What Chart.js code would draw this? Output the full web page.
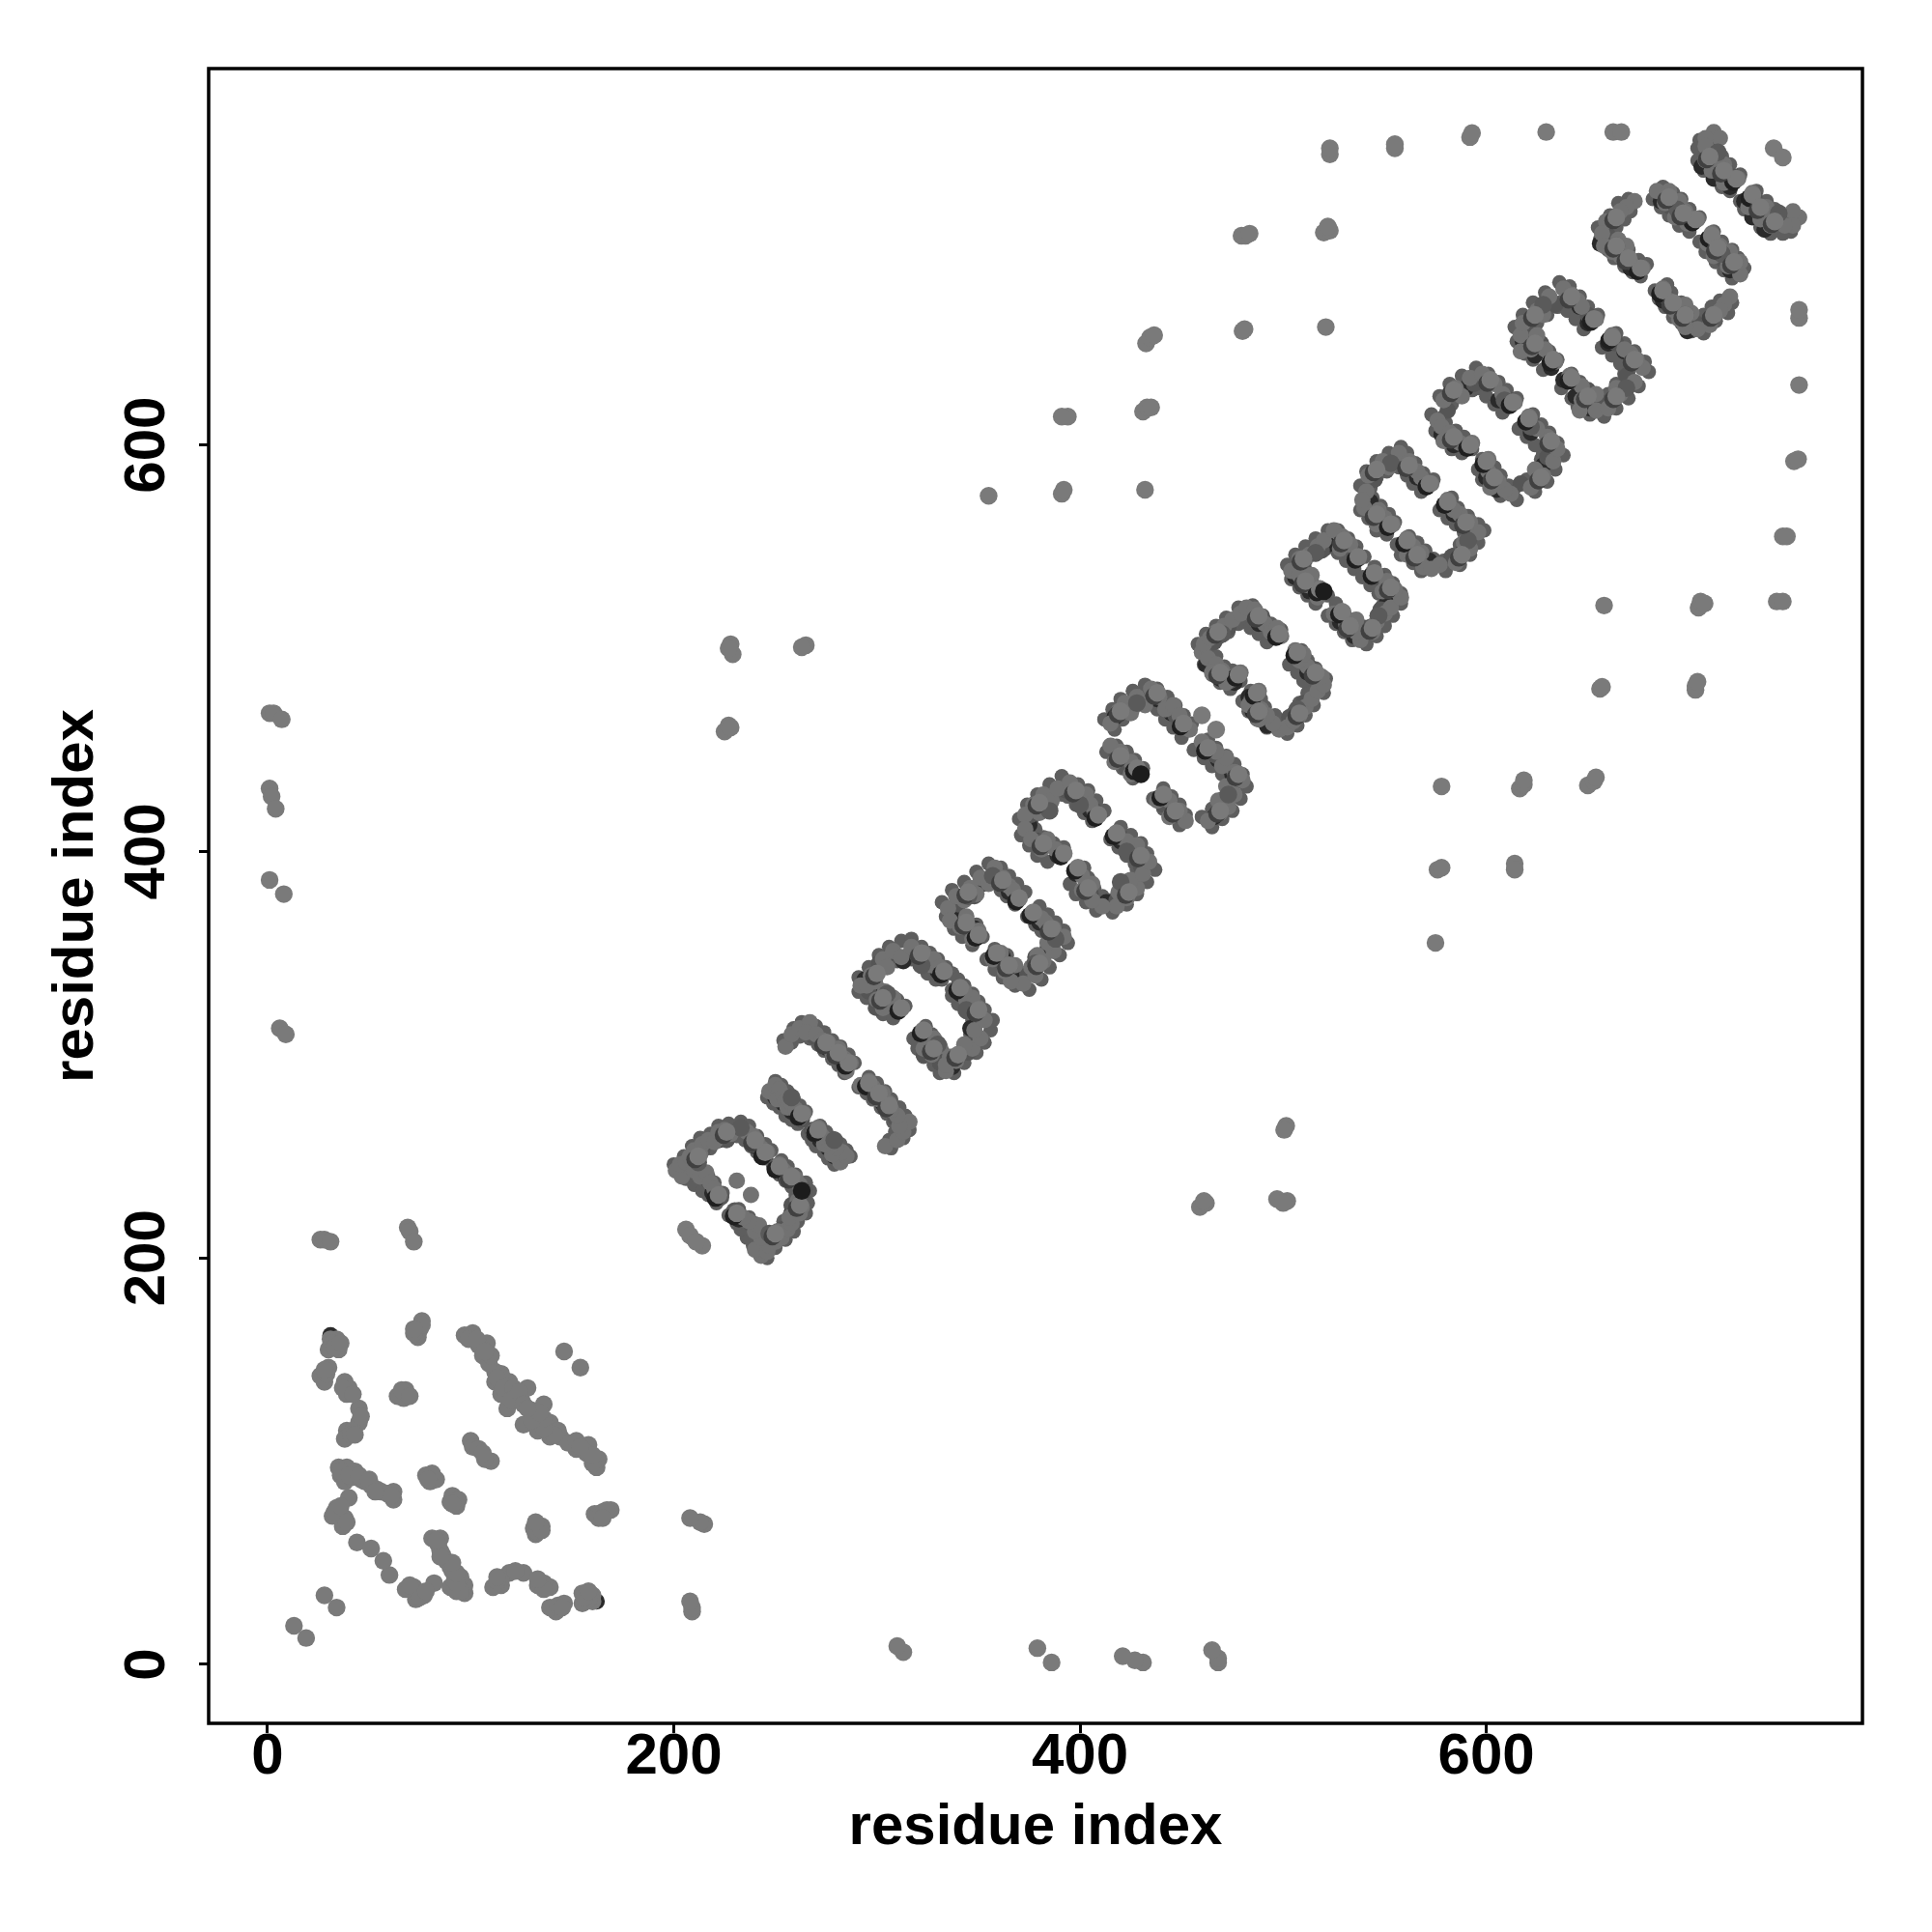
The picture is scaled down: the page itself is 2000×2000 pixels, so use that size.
<!DOCTYPE html>
<html><head><meta charset="utf-8">
<script src="https://cdn.jsdelivr.net/npm/chart.js@4/dist/chart.umd.min.js"></script>
<style>html,body{margin:0;padding:0;background:#fff}canvas{display:block}</style></head>
<body><canvas id="c" width="2000" height="2000" style="width:2000px;height:2000px"></canvas>
<script>
// Contacts as [residue i, residue j] with j > i.
// A contact map is symmetric, so each one is also plotted as [j, i].
const tickValues = [0, 200, 400, 600];
const axisLabel = "residue index";

const contactsIsolated = [
[523,743],[523,746],[555,746],[555,748],[592,751.5],[593,753.5],[629.5,754],[662.5,754],[666.5,754],[741.5,746],
[479.5,703],[481.5,703],[483.5,704],[520,704.5],[523,705.5],[522,707.5],[480,656],[481,657],[521,658],
[432.5,650],[434.5,653],[436.5,654],[431,616.5],[433,618.5],[435,618.5],[432,578],[394,614],[391,614],[391,576],[392,578],[355,575],
[265,501.5],[263,500.5],[228,502],[229,497],[227,500],[225,459],[227,462],[228,461],
[1,468],[3,468],[7,465],[1,431],[2,427],[4,421],[1,386],[8,379],[6,313],[9,310],
[206,214],[208,211],[26,209],[28,209],[31,208],[69,215],[70,213],[72,208],[460,467]];

const contactsNterm = [
[13,19],[28,34],[34,160],[31,160],[32,158],[30,155],[35,155],[30,146],[26,142],[28,139],[29,143],
[38,139],[40,136],[39,133],[45,126],[45,119],[39,115],[42,115],[38,111],[41,113],
[68,135],[64,132],[67,131],[76,169],[75,165],[74,161],[74,163],
[97,162],[101,163],[108,158],[106,152],[104,157],[112,144],[112,139],[119,139],[118,126],[128,136],[122,133],[115,133],[125,130],[109,148],[115,143],
[146,154],[100,110],[101,107],[104,106],
[35,97],[39,97],[43,95],[46,91],[51,88],[56,85],[62,85],[62,81],[36,93],[38,90],[41,92],[48,90],[54,86],[59,84],
[78,93],[80,90],[83,91],[81,94],[40,82],[34,77],[32,73],[37,68],[35,75],[38,72],[44,60],[51,57],
[66,132],[72,163],
[33,156],[36,158],[28,145],[37,136],[42,133],[46,122],[43,113],[66,135],[70,132],[76,167],[72,165],[99,160],[103,160],[110,152],[107,154],[113,141],[116,136],[121,136],[120,130],[124,134],[126,128],[36,95],[40,93],[45,93],[50,91],[53,85],[61,83],[79,91],[33,75],[36,78],[39,70]];

const contactsRepeats = [
[201,243],[204,240],[203,246],[206,247],[208,250],[210,253],[213,251],[214,256],[217,258],[220,257],[222,262],[225,263],[228,261],[236,262],[239,260],[241,257],[243,254],[246,252],[210,243],[213,240],[216,242],[218,237],[220,234],[231,238],
[247,282],[250,285],[252,283],[251,278],[254,280],[255,277],[256,274],[258,276],[260,273],[262,269],[264,271],
[255,304],[258,310],[262,313],[267,316],[265,311],[270,310],[273,307],[276,306],[278,301],[281,303],[284,298],[287,296],[285,292],
[292,334],[297,339],[299,336],[303,347],[305,343],[308,351],[312,348],[317,353],[320,349],[323,350],[327,344],[328,347],[331,343],[333,341],[295,334],[300,327],[304,331],[303,323],[308,328],[312,323],
[335,372],[336,366],[339,378],[343,376],[346,382],[349,379],[351,387],[355,384],[358,392],[362,387],[365,383],[367,381],[370,377],[341,363],[344,368],[347,357],[350,361],
[373,418],[373,411],[377,423],[380,419],[382,428],[386,425],[389,431],[395,434],[399,429],[403,428],[405,423],[409,418],[376,406],[381,401],[384,406],[388,401],[392,399],
[415,463],[419,469],[422,473],[425,468],[428,476],[432,472],[435,480],[439,476],[442,470],[446,472],[449,467],[451,461],[454,460],[415,452],[420,449],[417,444],[425,444],[425,438],
[460,498],[461,502],[464,505],[467,508],[471,511],[475,514],[479,517],[482,520],[486,519],[488,515],[491,512],[494,508],[497,510],[499,506],[463,495],[467,492],[465,488],[470,489],[472,483],[476,486],[479,488],
[504,538],[508,544],[513,546],[517,550],[520,553],[525,558],[529,555],[533,551],[537,544],[528,549],[508,536],[512,531],[514,536],[517,525],
[541,577],[542,585],[549,592],[552,589],[557,596],[562,592],[566,587],[568,584],[573,581],[540,569],[539,573],[547,568],[546,561],[550,564],[554,561],
[576,612],[579,622],[585,628],[588,624],[592,633],[598,635],[601,631],[604,630],[608,625],[614,621],[578,609],[582,606],[587,601],[593,601],[579,602],
[617,654],[618,660],[625,666],[628,664],[631,673],[638,677],[642,674],[645,671],[647,668],[654,662],[625,654],[622,647],[629,647],[634,641],[617,646],
[673,720],[669,717],[666,715],[659,710],[657,704],[665,701],[669,698],[658,698],[671,690],[677,687],[662,695],[666,693],
[684,725],[690,725],[695,720],[698,715],[704,711],[688,719],[693,712],[699,709],
[712,754],[715,751],[708,751],[708,747],[708,740],[712,742],[717,738],[724,731],[711,735],[717,729]];

// Dots along the outer and inner edges of the repeat bands.
const contactsEdges = [
[200,246],[205,250],[209,255],[213,259],[218,261],[222,265],[227,266],[205,243],[209,248],[213,252],[218,254],[223,258],
[233,267],[237,265],[241,260],[245,256],[248,253],[231,260],[235,258],[238,255],[241,252],[245,249],
[213,244],[217,240],[220,237],[224,232],[206,239],[210,236],[214,233],[217,231],[221,227],
[250,287],[253,285],[256,282],[259,278],[262,275],[265,272],[246,279],[249,276],[252,274],[255,270],[258,268],[261,266],
[270,314],[274,311],[278,307],[282,304],[286,300],[289,296],[267,308],[271,305],[274,302],[278,298],[281,295],[284,291],[254,307],[259,313],[263,316],[258,306],[262,309],
[291,338],[296,343],[301,349],[306,353],[312,356],[317,357],[296,335],[300,340],[305,344],[310,346],[315,349],[322,353],[326,350],[330,347],[334,343],[337,340],[317,347],[321,344],[325,340],[329,337],[332,337],[291,331],[295,328],[299,323],[303,320],[308,318],[298,335],[302,332],[306,330],[310,327],[314,324],
[332,375],[337,381],[343,385],[349,390],[355,394],[338,373],[343,378],[349,381],[354,385],[361,392],[365,388],[369,384],[373,380],[357,385],[361,381],[364,378],[368,374],[334,368],[338,362],[342,358],[347,354],[340,370],[344,365],[349,364],[352,358],
[370,416],[374,423],[379,428],[385,433],[391,437],[376,415],[381,421],[386,424],[391,428],[399,433],[404,430],[408,425],[412,420],[394,427],[398,423],[402,419],[406,415],[371,408],[375,403],[379,398],[384,395],[378,411],[382,407],[387,404],[392,402],
[412,465],[416,470],[420,475],[426,479],[432,482],[417,460],[421,465],[426,470],[431,473],[438,480],[443,476],[447,472],[451,467],[455,463],[434,473],[438,470],[442,465],[446,461],[450,456],[413,449],[417,446],[421,441],[426,436],[418,452],[423,449],[427,445],[431,441],
[458,502],[462,507],[467,511],[472,515],[478,520],[463,500],[468,505],[473,508],[478,512],[485,521],[490,516],[494,512],[499,509],[480,513],[484,510],[488,507],[492,503],[461,492],[465,487],[469,483],[474,480],[467,496],[471,491],[475,489],[479,484],
[502,541],[506,546],[511,550],[516,554],[522,558],[507,540],[511,543],[516,546],[521,549],[527,558],[532,554],[536,550],[540,545],[523,551],[527,547],[531,543],[535,539],[504,534],[508,530],[512,526],[516,522],[510,539],[514,533],[518,530],[522,526],
[538,580],[541,587],[546,592],[552,596],[558,599],[543,579],[546,584],[551,587],[555,590],[561,596],[565,591],[569,586],[574,583],[557,589],[561,585],[564,581],[568,577],[538,568],[542,564],[546,558],[551,556],[544,574],[548,570],[552,566],[555,562],
[573,615],[577,624],[582,630],[588,634],[595,638],[579,614],[583,620],[588,624],[593,627],[601,635],[606,631],[610,627],[615,623],[596,628],[600,624],[604,620],[608,616],[575,607],[579,603],[583,598],[588,596],[580,611],[585,607],[589,604],[593,598],
[614,658],[618,664],[623,670],[629,675],[636,680],[620,655],[625,660],[630,664],[635,668],[641,678],[646,673],[650,668],[655,664],[636,670],[640,666],[644,662],[648,657],[615,651],[619,645],[623,642],[628,637],[621,654],[626,650],[631,646],[635,642],
[670,721],[665,719],[661,713],[655,707],[656,701],[660,696],[663,692],[668,688],[672,685],[676,683],[661,703],[666,699],[670,696],[675,691],[679,689],[668,711],[664,707],[671,715],
[687,727],[692,724],[696,721],[700,716],[705,712],[682,721],[686,717],[690,713],[695,708],[700,705],
[705,750],[704,746],[704,740],[707,735],[712,731],[716,727],[720,725],[711,748],[713,745],[716,742],[720,738],[725,733]];

// Darker dots peeking out under the grey ones.
const underDark = [
[31,162],[210,247],[222,258],[240,255],[219,232],[254,276],[258,272],[250,279],[261,269],[276,303],[284,295],[300,330],[294,337],[306,326],[310,324],[322,346],[330,341],[313,346],
[338,370],[348,362],[365,380],[352,384],[375,413],[379,405],[389,398],[400,425],[405,420],[417,466],[420,445],[426,440],[438,475],[445,468],
[462,492],[469,485],[476,483],[488,512],[496,506],[506,535],[510,531],[513,528],[530,550],[522,551],[543,572],[549,561],[548,589],[566,584],[578,605],[584,600],[590,628],[606,622],
[618,651],[624,644],[632,638],[646,668],[650,660],[656,699],[664,695],[671,687],[686,720],[694,714],[706,737],[712,731],[720,727]];

const midShade = [
[207,244],[214,253],[226,258],[245,250],[217,238],[249,281],[256,279],[263,268],[269,309],[280,299],[296,331],[301,345],[306,348],[325,347],[300,323],
[340,374],[348,378],[360,388],[346,361],[376,418],[384,423],[393,430],[380,405],[407,420],[423,470],[434,476],[447,467],[418,447],[423,441],
[466,503],[473,510],[490,514],[466,490],[474,484],[510,540],[519,548],[535,547],[511,534],[545,583],[555,592],[570,582],[544,566],[551,560],[581,617],[594,630],[610,623],[584,603],
[621,657],[634,669],[650,664],[627,650],[660,703],[668,696],[674,688],[691,717],[697,712],[710,745],[714,739],[722,732]];

// Dark dots that sit on top of the others.
const topShade = [[233,264],[223,230],[239,256],[212,247],[258,279],[305,330],[322,344],[345,378],[357,388],[385,420],[400,423],[428,473],[470,507],[516,547],[553,591],[609,622],[628,669],[664,698],[694,716],[714,744]];

// Near-black dots just behind the light dots at the band ends.
const crescentDark = [
[243.5,250],[220.5,229.5],[261.5,269.5],[284.5,294.5],[331.5,339.5],[310.5,321.5],[368.5,375.5],[348.5,357.5],[407.5,416.5],[390.5,397.5],
[449.5,461.5],[426.5,439.5],[496.5,505.5],[476.5,485.5],[535.5,543.5],[516.5,527.5],[570.5,579.5],[551.5,559.5],[611.5,619.5],[590.5,598.5],
[651.5,660.5],[631.5,640.5],[674.5,685.5],[701.5,709.5],[721.5,729.5]];
const crescentMid = [
[224.5,260.5],[238.5,256.5],[210.5,248.5],[273.5,304.5],[279.5,299.5],[298.5,338.5],[320.5,348.5],[301.5,326.5],[343.5,378.5],[360.5,384.5],[342.5,363.5],
[378.5,422.5],[396.5,428.5],[380.5,402.5],[418.5,467.5],[436.5,476.5],[418.5,445.5],[466.5,506.5],[486.5,514.5],[467.5,486.5],[508.5,542.5],[528.5,551.5],[509.5,531.5],
[544.5,586.5],[560.5,588.5],[544.5,564.5],[582.5,625.5],[600.5,630.5],[582.5,602.5],[622.5,662.5],[640.5,671.5],[622.5,648.5],[662.5,710.5],[662.5,696.5],[668.5,690.5],[688.5,720.5],[695.5,712.5],[708.5,740.5],[715.5,733.5]];
// The light dots that sit on top of them.
const crescentLight = [
[245,252],[222,231],[263,271],[286,296],[333,341],[312,323],[370,377],[350,359],[409,418],[392,399],
[451,463],[428,441],[498,507],[478,487],[537,545],[518,529],[572,581],[553,561],[613,621],[592,600],
[653,662],[633,642],[676,687],[703,711],[723,731],
[226,262],[240,258],[212,250],[275,306],[281,301],[300,340],[322,350],[303,328],[345,380],[362,386],[344,365],
[380,424],[398,430],[382,404],[420,469],[438,478],[420,447],[468,508],[488,516],[469,488],[510,544],[530,553],[511,533],
[546,588],[562,590],[546,566],[584,627],[602,632],[584,604],[624,664],[642,673],[624,650],[664,712],[664,698],[670,692],[690,722],[697,714],[710,742],[717,735]];

const darkestSpots = [[430,438],[520,528],[263,233]];

const mirror = list => list.concat(list.map(p => [p[1], p[0]]));
const toPoints = list => list.map(p => ({x: p[0], y: p[1]}));
const layer = (list, color, order, radius) => ({
  data: toPoints(list), backgroundColor: color, pointBackgroundColor: color,
  pointRadius: radius || 9.2, pointBorderWidth: 0, pointHoverRadius: radius || 9.2, showLine: false, order: order, clip: false
});

const boxPlugin = {
  id: 'box',
  afterDatasetsDraw(chart) {
    const a = chart.chartArea, g = chart.ctx;
    g.save(); g.strokeStyle = '#000'; g.lineWidth = 3.5;
    g.strokeRect(a.left, a.top, a.right - a.left, a.bottom - a.top); g.restore();
  }
};
const tickFont = {family: '"Liberation Sans", Arial, sans-serif', size: 60, weight: 'bold', lineHeight: 0.85};
const titleFont = {family: '"Liberation Sans", Arial, sans-serif', size: 60, weight: 'bold'};
const setTicks = s => { s.ticks = tickValues.map(v => ({value: v})); };
const tickGrid = {display: true, drawOnChartArea: false, drawTicks: true, tickLength: 10, tickWidth: 3, tickColor: '#000'};

new Chart(document.getElementById('c'), {
  type: 'scatter',
  data: {datasets: [
    layer(mirror(contactsEdges), '#5e5e5e', 11, 7.5),
    layer(mirror(underDark), '#2a2a2a', 10, 8.5),
    layer(mirror(midShade), '#555555', 9, 8.5),
    layer(mirror(contactsRepeats), '#727272', 8, 8.5),
    layer(mirror(contactsNterm), '#7a7a7a', 7),
    layer(mirror(contactsIsolated), '#7a7a7a', 6),
    layer(mirror(topShade), '#5a5a5a', 5),
    layer(mirror(crescentDark), '#1f1f1f', 4),
    layer(mirror(crescentMid), '#404040', 3),
    layer(mirror(crescentLight), '#7a7a7a', 2),
    layer(darkestSpots, '#1c1c1c', 1)
  ]},
  plugins: [boxPlugin],
  options: {
    responsive: false, animation: false, devicePixelRatio: 1,
    layout: {padding: {top: 71, right: 72, left: 0, bottom: 0}},
    plugins: {legend: {display: false}, tooltip: {enabled: false}},
    scales: {
      x: {
        type: 'linear', min: -29, max: 785.2,
        afterBuildTicks: setTicks,
        afterFit: s => { s.height = 216; },
        border: {display: false},
        grid: tickGrid,
        ticks: {color: '#000', font: tickFont, padding: 0, maxRotation: 0, minRotation: 0, autoSkip: false},
        title: {display: true, text: axisLabel, color: '#000', font: titleFont, padding: {top: 0, bottom: 72}}
      },
      y: {
        type: 'linear', min: -29, max: 785.2,
        afterBuildTicks: setTicks,
        afterFit: s => { s.width = 216; },
        border: {display: false},
        grid: tickGrid,
        ticks: {color: '#000', font: tickFont, padding: 2, minRotation: 90, maxRotation: 90, autoSkip: false, crossAlign: 'center'},
        title: {display: true, text: axisLabel, color: '#000', font: titleFont, padding: {top: 43, bottom: 0}}
      }
    }
  }
});
</script></body></html>
